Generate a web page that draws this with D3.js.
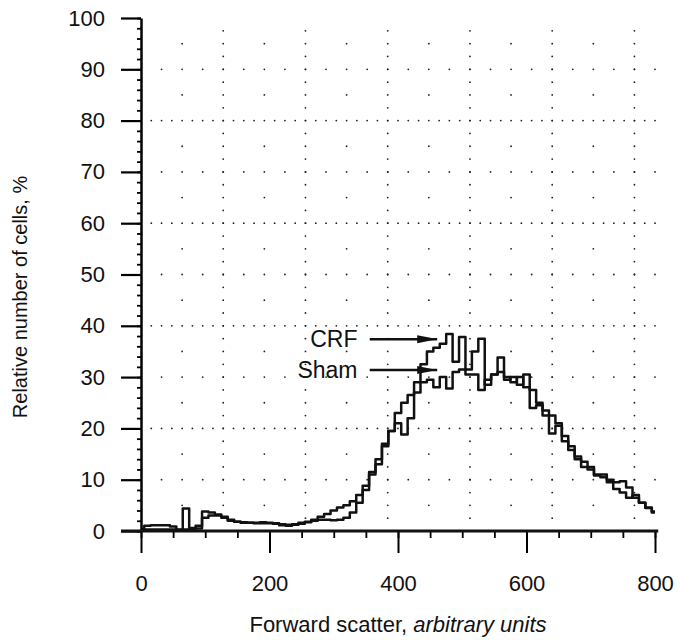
<!DOCTYPE html>
<html>
<head>
<meta charset="utf-8">
<script src="https://cdn.jsdelivr.net/npm/d3@7"></script>
<style>
  body { margin: 0; background: #fff; }
  svg text { font-family: "Liberation Sans", Arial, Helvetica, sans-serif; fill: #111; }
</style>
</head>
<body>
<div id="chart"></div>
<script>
// channel positions (forward scatter, arbitrary units)
const scatter = [
  0, 10, 20, 30, 40, 50, 60, 70, 80, 90,
  100, 110, 120, 130, 140, 150, 160, 170, 180, 190,
  200, 210, 220, 230, 240, 250, 260, 270, 280, 290,
  300, 310, 320, 330, 340, 350, 360, 370, 380, 390,
  400, 410, 420, 430, 440, 450, 460, 470, 480, 490,
  500, 510, 520, 530, 540, 550, 560, 570, 580, 590,
  600, 610, 620, 630, 640, 650, 660, 670, 680, 690,
  700, 710, 720, 730, 740, 750, 760, 770, 780, 790, 800
];

// relative number of cells, %
const crf = [
  0.4, 1.0, 1.1, 1.1, 1.1, 0.9, 0.3, 4.4, 0.6, 0.5,
  2.6, 3.0, 3.0, 2.6, 2.0, 1.8, 1.7, 1.6, 1.6, 1.7,
  1.6, 1.5, 1.3, 1.2, 1.3, 1.6, 1.8, 2.2, 2.8, 3.3,
  4.0, 4.6, 5.0, 5.8, 7.0, 8.8, 11.5, 14.0, 17.0, 19.5,
  23.0, 25.0, 26.5, 29.0, 32.5, 35.0, 35.7, 36.5, 38.4, 33.0,
  37.8, 31.5, 35.0, 37.5, 28.5, 30.5, 31.0, 30.0, 29.0, 30.0,
  28.0, 24.0, 24.5, 23.5, 22.5, 21.0, 18.5, 16.5, 14.5, 13.5,
  12.5, 11.0, 11.0, 10.0, 9.5, 9.7, 8.5, 6.5, 5.5, 4.6, 3.8
];

const sham = [
  0.2, 0.3, 0.3, 0.3, 0.3, 0.3, 0.2, 0.3, 0.3, 1.0,
  3.8, 3.6, 3.2, 2.8, 2.2, 1.8, 1.6, 1.6, 1.5, 1.5,
  1.5, 1.4, 1.1, 1.0, 1.2, 1.4, 1.7, 2.0, 2.2, 2.2,
  2.1, 2.2, 2.6, 3.6, 5.5, 8.0, 11.0, 13.0, 16.5, 19.5,
  21.0, 18.8, 22.0, 27.0, 29.0, 29.5, 28.0, 30.0, 27.8, 31.0,
  31.5, 30.5, 30.5, 27.5, 29.5, 30.5, 33.8, 29.5, 30.0, 28.5,
  30.5, 27.5, 25.0, 22.5, 19.0, 20.5, 17.5, 15.8, 14.0, 12.5,
  12.0, 10.8, 10.5, 9.5, 8.2, 7.5, 6.5, 7.0, 5.5, 4.5, 3.6
];

// tick labels
const xTicks = [0, 200, 400, 600, 800];
const yTicks = [0, 10, 20, 30, 40, 50, 60, 70, 80, 90, 100];

// instrument grid (dotted), in data units
const gridCols = [128, 256, 384, 512, 640, 768];
const gridRowsDense = [20, 40, 60, 80];
const gridRowsMid = [10, 30, 50, 70, 90];
const gridRowsSparse = [5, 15, 25, 35, 45, 55, 65, 75, 85, 95];
const gridColsSparse = [64, 192, 320, 448, 576, 704];

const width = 680, height = 640;
const margin = { top: 18, right: 25, bottom: 109, left: 141 };

const svg = d3.select("#chart")
  .append("svg")
  .attr("width", width)
  .attr("height", height);

svg.append("rect").attr("width", width).attr("height", height).attr("fill", "#fff");

const x = d3.scaleLinear().domain([0, 800]).range([margin.left, width - margin.right]);
const y = d3.scaleLinear().domain([0, 100]).range([height - margin.bottom, margin.top]);

// dotted grid
const dots = [];
gridCols.forEach(c => d3.range(2.5, 98, 2.5).forEach(v => dots.push([c, v])));
gridRowsDense.forEach(r => d3.range(16, 801, 16).forEach(c => dots.push([c, r])));
gridRowsMid.forEach(r => d3.range(32, 801, 32).forEach(c => dots.push([c, r])));
gridRowsSparse.forEach(r => gridColsSparse.forEach(c => dots.push([c, r])));

svg.append("g")
  .selectAll("circle")
  .data(dots)
  .join("circle")
  .attr("cx", d => x(d[0]))
  .attr("cy", d => y(d[1]))
  .attr("r", 0.9)
  .attr("fill", "#222");

// curves
const line = d3.line()
  .x((d, i) => x(scatter[i]))
  .y(d => y(d))
  .curve(d3.curveStep);

[crf, sham].forEach(series => {
  svg.append("path")
    .datum(series)
    .attr("fill", "none")
    .attr("stroke", "#111")
    .attr("stroke-width", 2.5)
    .attr("stroke-linejoin", "round")
    .attr("d", line);
});

// y axis: major + minor ticks
const yAxis = svg.append("g").attr("transform", `translate(${margin.left},0)`);
yAxis.call(d3.axisLeft(y).tickValues(yTicks).tickSize(20).tickSizeOuter(0).tickPadding(16));
yAxis.select(".domain").attr("stroke-width", 2.5);
yAxis.selectAll(".tick line").attr("stroke-width", 2.2);
yAxis.selectAll(".tick text").attr("font-size", 22).style("font-family", null);

svg.append("g")
  .attr("transform", `translate(${margin.left},0)`)
  .call(d3.axisLeft(y).tickValues(d3.range(0, 101, 2)).tickSize(4).tickFormat(""))
  .call(g => g.select(".domain").remove())
  .selectAll(".tick line").attr("stroke-width", 1.8);

// x axis: major + minor ticks
const xAxisY = y(0);
const xAxis = svg.append("g").attr("transform", `translate(0,${xAxisY})`);
xAxis.call(d3.axisBottom(x).tickValues(xTicks).tickSize(22).tickPadding(22));
xAxis.select(".domain").remove();
xAxis.selectAll(".tick line").attr("stroke-width", 2);
xAxis.selectAll(".tick text").attr("font-size", 22);

svg.append("g")
  .attr("transform", `translate(0,${xAxisY})`)
  .call(d3.axisBottom(x).tickValues(d3.range(0, 801, 50)).tickSize(7).tickFormat(""))
  .call(g => g.select(".domain").remove())
  .selectAll(".tick line").attr("stroke-width", 1.8);

svg.append("line")
  .attr("x1", x(0) - 20).attr("x2", x(805))
  .attr("y1", xAxisY).attr("y2", xAxisY)
  .attr("stroke", "#111")
  .attr("stroke-width", 3);

// axis titles
svg.append("text")
  .attr("transform", `translate(20,297) rotate(-90)`)
  .attr("text-anchor", "middle")
  .attr("dominant-baseline", "central")
  .attr("font-size", 20)
  .text("Relative number of cells, %");

const xTitle = svg.append("text")
  .attr("x", 398)
  .attr("y", 632)
  .attr("text-anchor", "middle")
  .attr("font-size", 22);
xTitle.append("tspan").text("Forward scatter, ");
xTitle.append("tspan").attr("font-style", "italic").text("arbitrary units");

// arrow labels
svg.append("defs").append("marker")
  .attr("id", "head")
  .attr("viewBox", "0 0 20 10")
  .attr("refX", 20).attr("refY", 5)
  .attr("markerWidth", 20).attr("markerHeight", 10)
  .attr("markerUnits", "userSpaceOnUse")
  .attr("orient", "auto")
  .append("path")
  .attr("d", "M0,1L20,5L0,9z")
  .attr("fill", "#111");

const notes = [
  { label: "CRF", value: 37.4 },
  { label: "Sham", value: 31.4 }
];

notes.forEach(n => {
  svg.append("line")
    .attr("x1", x(356)).attr("x2", x(461))
    .attr("y1", y(n.value)).attr("y2", y(n.value))
    .attr("stroke", "#111")
    .attr("stroke-width", 2.5)
    .attr("marker-end", "url(#head)");
  svg.append("text")
    .attr("x", x(337))
    .attr("y", y(n.value))
    .attr("text-anchor", "end")
    .attr("dominant-baseline", "central")
    .attr("font-size", 23)
    .text(n.label);
});
</script>
</body>
</html>
